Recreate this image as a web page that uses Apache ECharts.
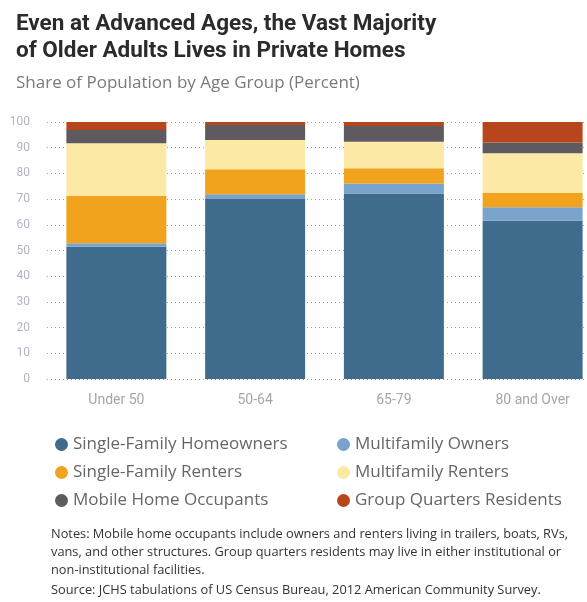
<!DOCTYPE html>
<html>
<head>
<meta charset="utf-8">
<script src="https://cdn.jsdelivr.net/npm/echarts@6/dist/echarts.min.js"></script>
<style>
  html, body { margin: 0; padding: 0; background: #ffffff; }
  #chart { width: 587px; height: 602px; }
</style>
</head>
<body>
<div id="chart"></div>
<script>
// Housing type shares by age group (percent of population)
const categories = ['Under 50', '50-64', '65-79', '80 and Over'];
const singleFamilyHomeowners = [51.5, 70.0, 72.2, 61.6];
const multifamilyOwners = [1.3, 1.9, 3.9, 5.2];
const singleFamilyRenters = [18.4, 9.7, 5.9, 5.7];
const multifamilyRenters = [20.5, 11.4, 10.3, 15.3];
const mobileHomeOccupants = [5.2, 5.8, 6.1, 4.2];
const groupQuartersResidents = [3.1, 1.2, 1.6, 8.0];
const yTicks = [0, 10, 20, 30, 40, 50, 60, 70, 80, 90, 100];

const FONT = 'Roboto, "DejaVu Sans", sans-serif';
const WIDE = '"Open Sans", Roboto, sans-serif';

const seriesDefs = [
  { name: 'Single-Family Homeowners', data: singleFamilyHomeowners, color: '#3f6b8c' },
  { name: 'Multifamily Owners', data: multifamilyOwners, color: '#79a3cb' },
  { name: 'Single-Family Renters', data: singleFamilyRenters, color: '#f2a31d' },
  { name: 'Multifamily Renters', data: multifamilyRenters, color: '#fde9a6' },
  { name: 'Mobile Home Occupants', data: mobileHomeOccupants, color: '#5f5960' },
  { name: 'Group Quarters Residents', data: groupQuartersResidents, color: '#b8461c' }
];

const legendText = { fontFamily: WIDE, fontSize: 17, color: '#666666', lineHeight: 16 };

const notes = [
  'Notes: Mobile home occupants include owners and renters living in trailers, boats, RVs,',
  'vans, and other structures. Group quarters residents may live in either institutional or',
  'non-institutional facilities.',
  'Source: JCHS tabulations of US Census Bureau, 2012 American Community Survey.'
];
const noteY = [536, 554, 572, 592];

const chart = echarts.init(document.getElementById('chart'));
chart.setOption({
  animation: false,
  backgroundColor: '#ffffff',
  title: [
    {
      text: 'Even at Advanced Ages, the Vast Majority\nof Older Adults Lives in Private Homes',
      left: 11, top: 6,
      textStyle: { fontFamily: FONT, fontSize: 22.5, fontWeight: 'bold', color: '#2b2b2b', lineHeight: 27 }
    },
    {
      text: 'Share of Population by Age Group (Percent)',
      left: 11, top: 70,
      textStyle: { fontFamily: WIDE, fontSize: 17, fontWeight: 'normal', color: '#7a7a7a' }
    }
  ],
  // the last band runs past the right edge of the canvas
  grid: { left: 47, width: 555, top: 122, bottom: 223, outerBoundsMode: 'none' },
  xAxis: {
    type: 'category',
    data: categories,
    axisLine: { show: false },
    axisTick: { show: false },
    axisLabel: { color: '#a6a6ae', fontFamily: FONT, fontSize: 14, margin: 14 }
  },
  yAxis: {
    type: 'value',
    min: yTicks[0],
    max: yTicks[yTicks.length - 1],
    interval: 10,
    axisLine: { show: false },
    axisTick: { show: false },
    axisLabel: { color: '#b2b5c6', fontFamily: FONT, fontSize: 12, margin: 17 },
    splitLine: { lineStyle: { color: '#a0a0a0', type: [1, 3], width: 1 } }
  },
  legend: [
    {
      orient: 'vertical', left: 50, top: 431, icon: 'circle',
      itemWidth: 13, itemHeight: 13, itemGap: 11,
      textStyle: legendText,
      data: ['Single-Family Homeowners', 'Single-Family Renters', 'Mobile Home Occupants']
    },
    {
      orient: 'vertical', left: 332, top: 431, icon: 'circle',
      itemWidth: 13, itemHeight: 13, itemGap: 11,
      textStyle: legendText,
      data: ['Multifamily Owners', 'Multifamily Renters', 'Group Quarters Residents']
    }
  ],
  graphic: notes.map((t, i) => ({
    type: 'text',
    left: 51,
    top: noteY[i] - 8,
    style: { text: t, fontFamily: WIDE, fontSize: 12.8, fill: '#333333' }
  })),
  series: seriesDefs.map(s => ({
    name: s.name,
    type: 'bar',
    stack: 'total',
    barWidth: 100,
    data: s.data,
    itemStyle: { color: s.color }
  }))
});
</script>
</body>
</html>
